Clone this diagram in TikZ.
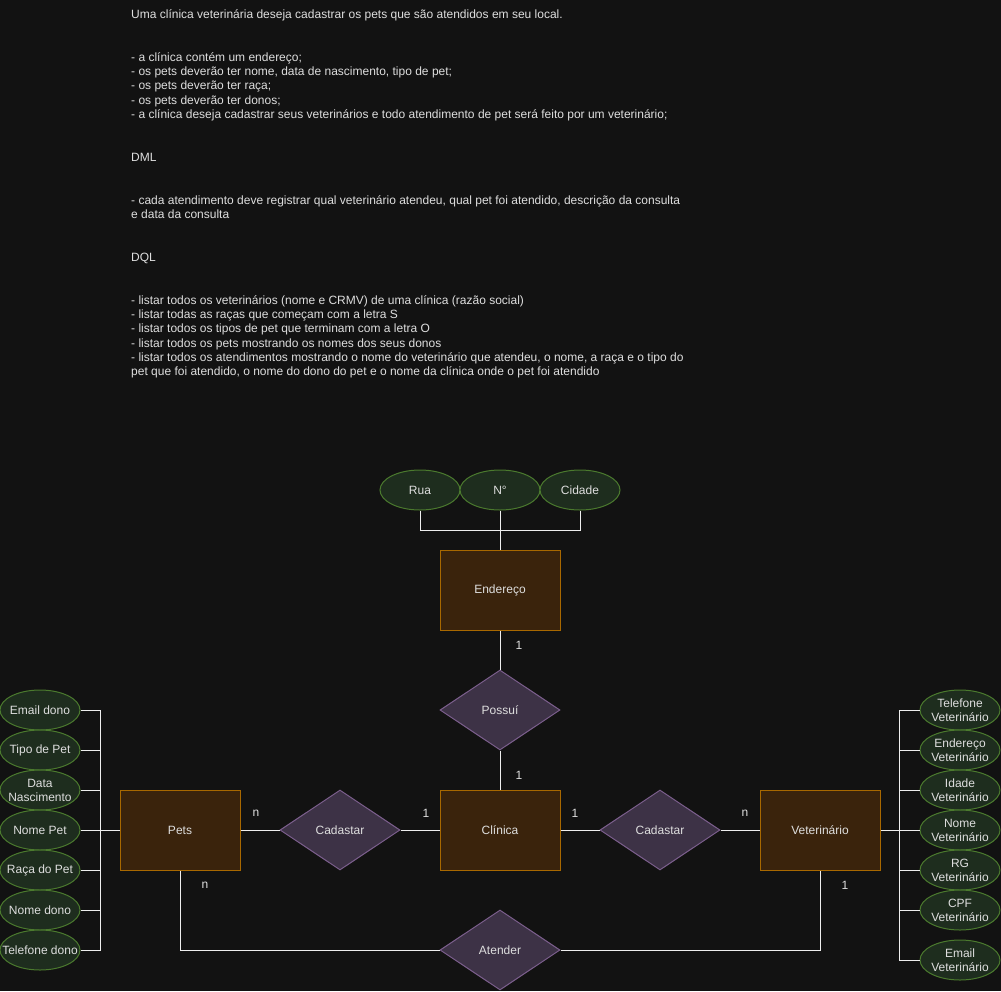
\documentclass[tikz,border=0pt]{standalone}
\usepackage{fontspec}
\setmainfont{Liberation Sans}
\usetikzlibrary{shapes.geometric}

\definecolor{bgcol}{HTML}{121212}
\definecolor{txtcol}{HTML}{DEDEDE}
\definecolor{linecol}{HTML}{EEEEEE}
\definecolor{entfill}{HTML}{3A230C}
\definecolor{entdraw}{HTML}{A86800}
\definecolor{attrfill}{HTML}{1E2D1E}
\definecolor{attrdraw}{HTML}{4B7A2E}
\definecolor{relfill}{HTML}{3D3246}
\definecolor{reldraw}{HTML}{7B5E8C}

\begin{document}
\begin{tikzpicture}[x=1pt,y=-1pt,
  every node/.style={text=txtcol, font=\fontsize{12pt}{14pt}\selectfont},
  note/.style={anchor=base west, inner sep=0pt},
  entity/.style={draw=entdraw, fill=entfill, line width=1pt,
    minimum width=120pt, minimum height=80pt, inner sep=0pt},
  % fixed 80x40 ellipses: negative x padding keeps wide labels from growing the shape
  attr/.style={ellipse, draw=attrdraw, fill=attrfill, line width=1pt,
    minimum width=80pt, minimum height=40pt, inner xsep=-16pt, inner ysep=0pt,
    align=center},
  rel/.style={diamond, draw=reldraw, fill=relfill, line width=1pt,
    minimum width=120pt, minimum height=80pt, inner sep=0pt},
  card/.style={inner sep=0pt},
  link/.style={draw=linecol, line width=1pt}
]
\fill[bgcol] (0,0) rectangle (1001,991);
\useasboundingbox (0,0) rectangle (1001,991);

% Requirements text
\node[note] (t0)  at (131,18.3) {Uma clínica veterinária deseja cadastrar os pets que são atendidos em seu local.};
\node[note] (t3)  at (131,61.2) {- a clínica contém um endereço;};
\node[note] (t4)  at (131,75.5) {- os pets deverão ter nome, data de nascimento, tipo de pet;};
\node[note] (t5)  at (131,89.8) {- os pets deverão ter raça;};
\node[note] (t6)  at (131,104.1) {- os pets deverão ter donos;};
\node[note] (t7)  at (131,118.4) {- a clínica deseja cadastrar seus veterinários e todo atendimento de pet será feito por um veterinário;};
\node[note] (t10) at (131,161.3) {DML};
\node[note] (t13) at (131,204.2) {- cada atendimento deve registrar qual veterinário atendeu, qual pet foi atendido, descrição da consulta};
\node[note] (t14) at (131,218.5) {e data da consulta};
\node[note] (t17) at (131,261.4) {DQL};
\node[note] (t20) at (131,304.3) {- listar todos os veterinários (nome e CRMV) de uma clínica (razão social)};
\node[note] (t21) at (131,318.6) {- listar todas as raças que começam com a letra S};
\node[note] (t22) at (131,332.9) {- listar todos os tipos de pet que terminam com a letra O};
\node[note] (t23) at (131,347.2) {- listar todos os pets mostrando os nomes dos seus donos};
\node[note] (t24) at (131,361.5) {- listar todos os atendimentos mostrando o nome do veterinário que atendeu, o nome, a raça e o tipo do};
\node[note] (t25) at (131,375.8) {pet que foi atendido, o nome do dono do pet e o nome da clínica onde o pet foi atendido};

% Entities
\node[entity] (endereco) at (500,590) {Endereço};
\node[entity] (clinica)  at (500,830) {Clínica};
\node[entity] (pets)     at (180,830) {Pets};
\node[entity] (vet)      at (820,830) {Veterinário};

% Relationships
\node[rel] (possui)  at (500,710) {Possuí};
\node[rel] (cadpet)  at (340,830) {Cadastar};
\node[rel] (cadvet)  at (660,830) {Cadastar};
\node[rel] (atender) at (500,950) {Atender};

% Address attributes
\node[attr] (rua)    at (420,490) {Rua};
\node[attr] (numero) at (500,490) {N°};
\node[attr] (cidade) at (580,490) {Cidade};

% Pet attributes
\node[attr] (emaildono) at (40,710) {Email dono};
\node[attr] (tipopet)   at (40,750) {Tipo de Pet};
\node[attr] (datanasc)  at (40,790) {Data\\Nascimento};
\node[attr] (nomepet)   at (40,830) {Nome Pet};
\node[attr] (raca)      at (40,870) {Raça do Pet};
\node[attr] (nomedono)  at (40,910) {Nome dono};
\node[attr] (teldono)   at (40,950) {Telefone dono};

% Vet attributes
\node[attr] (telvet)   at (960,710) {Telefone\\Veterinário};
\node[attr] (endvet)   at (960,750) {Endereço\\Veterinário};
\node[attr] (idadevet) at (960,790) {Idade\\Veterinário};
\node[attr] (nomevet)  at (960,830) {Nome\\Veterinário};
\node[attr] (rgvet)    at (960,870) {RG\\Veterinário};
\node[attr] (cpfvet)   at (960,910) {CPF\\Veterinário};
\node[attr] (emailvet) at (960,960) {Email\\Veterinário};

% Connectors
\path[link] (rua.south) -- ++(0,20) -| (endereco.north);
\path[link] (cidade.south) -- ++(0,20) -| (endereco.north);
\path[link] (numero.south) -- (endereco.north);
\path[link] (endereco.south) -- (possui.north);
\path[link] (possui.south) -- (clinica.north);
\path[link] (pets.east) -- (cadpet.west);
\path[link] (cadpet.east) -- (clinica.west);
\path[link] (clinica.east) -- (cadvet.west);
\path[link] (cadvet.east) -- (vet.west);
\path[link] (pets.south) |- (atender.west);
\path[link] (atender.east) -| (vet.south);

\foreach \a in {emaildono,tipopet,datanasc,nomepet,raca,nomedono,teldono}
  \path[link] (\a.east) -- ++(20,0) |- (pets.west);
\foreach \a in {telvet,endvet,idadevet,nomevet,rgvet,cpfvet,emailvet}
  \path[link] (\a.west) -- ++(-20,0) |- (vet.east);

% Cardinalities
\node[card] (c1) at (519,645) {1};
\node[card] (c2) at (519,775) {1};
\node[card] (c3) at (256,813) {n};
\node[card] (c4) at (426,813) {1};
\node[card] (c5) at (575,813) {1};
\node[card] (c6) at (745,813) {n};
\node[card] (c7) at (205,885) {n};
\node[card] (c8) at (845,885) {1};
\end{tikzpicture}
\end{document}
